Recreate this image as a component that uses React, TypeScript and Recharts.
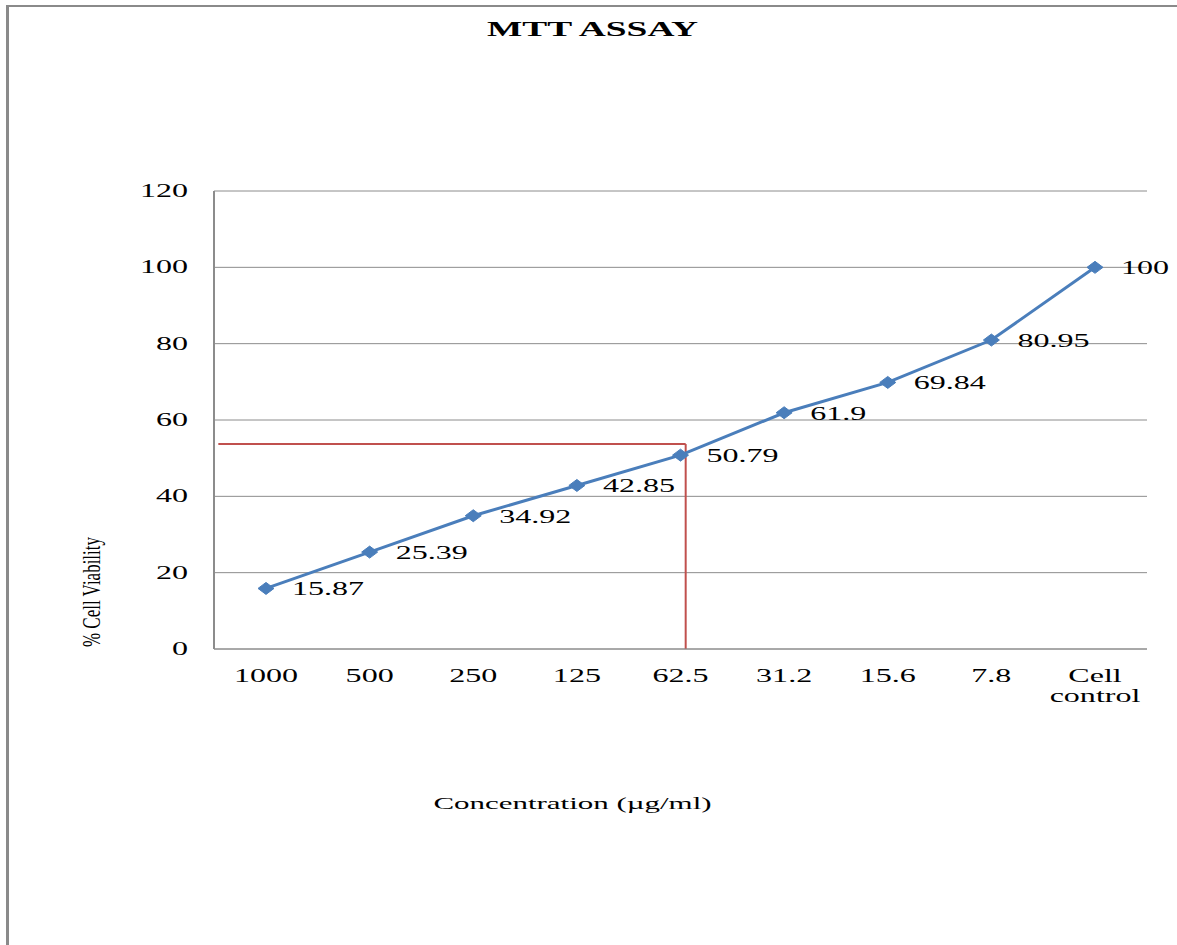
import { FC } from 'react';
import {
  CartesianGrid,
  LabelList,
  Line,
  LineChart,
  ReferenceLine,
  XAxis,
  YAxis,
} from 'recharts';

const concentrations = ['1000', '500', '250', '125', '62.5', '31.2', '15.6', '7.8', 'Cell control'];
const viability = [15.87, 25.39, 34.92, 42.85, 50.79, 61.9, 69.84, 80.95, 100];
const yTicks = [0, 20, 40, 60, 80, 100, 120];

// IC50 guide (x in category index units, y in % viability)
const ic50X = 4.05;
const ic50Y = 53.7;
const guideStartX = -0.46;

const data = concentrations.map((c, i) => ({ conc: c, idx: i, value: viability[i] }));

const FONT = '"Liberation Serif", "Times New Roman", serif';
const STRETCH = 1.78;
const PAD = { left: 52, right: 52 };

const XTick: FC<any> = ({ x, y, payload }) => {
  const lines = String(payload.value).split(' ');
  return (
    <g transform={`translate(${x},${y})`}>
      <text
        transform={`scale(${STRETCH},1)`}
        textAnchor="middle"
        fontFamily={FONT}
        fontSize={18}
        fill="#000"
      >
        {lines.map((l, i) => (
          <tspan key={i} x={0} dy={i === 0 ? '0.71em' : '1.15em'}>
            {l}
          </tspan>
        ))}
      </text>
    </g>
  );
};

const YTick: FC<any> = ({ x, y, payload }) => (
  <g transform={`translate(${x},${y})`}>
    <text
      transform={`scale(${STRETCH},1)`}
      textAnchor="end"
      dy="0.33em"
      fontFamily={FONT}
      fontSize={18}
      fill="#000"
    >
      {payload.value}
    </text>
  </g>
);

const PointLabel: FC<any> = ({ x, y, value }) => (
  <g transform={`translate(${x + 26},${y})`}>
    <text
      transform={`scale(${STRETCH},1)`}
      textAnchor="start"
      dy="0.38em"
      fontFamily={FONT}
      fontSize={18}
      fill="#000"
    >
      {value}
    </text>
  </g>
);

const Diamond: FC<any> = ({ cx, cy }) => {
  if (cx == null || cy == null) return null;
  const w = 8;
  const h = 6;
  return (
    <polygon
      points={`${cx - w},${cy} ${cx},${cy - h} ${cx + w},${cy} ${cx},${cy + h}`}
      fill="#4A7EBB"
      stroke="#4A7EBB"
    />
  );
};

export default function App() {
  return (
    <div
      style={{
        position: 'absolute',
        left: 0,
        top: 0,
        width: 1177,
        height: 945,
        background: '#fff',
        overflow: 'hidden',
      }}
    >
      <div
        style={{
          position: 'absolute',
          left: 6,
          top: 5,
          right: -10,
          bottom: -10,
          borderTop: '2px solid #8a8a8a',
          borderLeft: '3px solid #8a8a8a',
        }}
      />
      <div
        style={{
          position: 'absolute',
          left: 0,
          width: 1185,
          top: 16,
          textAlign: 'center',
          fontFamily: FONT,
          fontWeight: 'bold',
          fontSize: 22,
          transform: 'scaleX(1.7)',
        }}
      >
        MTT ASSAY
      </div>
      <div
        style={{
          position: 'absolute',
          left: 0,
          width: 1145,
          top: 794,
          textAlign: 'center',
          fontFamily: FONT,
          fontSize: 17,
          transform: 'scaleX(1.82)',
        }}
      >
        Concentration (µg/ml)
      </div>
      <div
        style={{
          position: 'absolute',
          left: 92 - 100,
          width: 200,
          top: 592 - 10,
          height: 20,
          lineHeight: '20px',
          textAlign: 'center',
          fontFamily: FONT,
          fontSize: 17,
          transform: 'scaleX(1.5) rotate(-90deg)',
        }}
      >
        % Cell Viability
      </div>
      <div style={{ position: 'absolute', left: 0, top: 0 }}>
        <LineChart
          width={1177}
          height={945}
          data={data}
          margin={{ top: 191, right: 30, bottom: 256, left: 154 }}
        >
          <CartesianGrid vertical={false} stroke="#8c8c8c" strokeWidth={1} />
          <XAxis
            xAxisId="cat"
            dataKey="conc"
            height={40}
            interval={0}
            padding={PAD}
            tickSize={0}
            tickMargin={20}
            axisLine={{ stroke: '#8c8c8c', strokeWidth: 1 }}
            tick={<XTick />}
          />
          <XAxis
            xAxisId="ref"
            dataKey="idx"
            type="number"
            domain={[0, 8]}
            padding={PAD}
            allowDataOverflow
            hide
          />
          <YAxis
            width={60}
            domain={[0, 120]}
            ticks={yTicks}
            interval={0}
            tickSize={0}
            tickMargin={26}
            axisLine={{ stroke: '#8c8c8c', strokeWidth: 2 }}
            tick={<YTick />}
          />
          <ReferenceLine
            xAxisId="ref"
            ifOverflow="visible"
            segment={[
              { x: guideStartX, y: ic50Y },
              { x: ic50X, y: ic50Y },
            ]}
            stroke="#C0504D"
            strokeWidth={2}
          />
          <ReferenceLine
            xAxisId="ref"
            ifOverflow="visible"
            segment={[
              { x: ic50X, y: ic50Y },
              { x: ic50X, y: 0 },
            ]}
            stroke="#C0504D"
            strokeWidth={2}
          />
          <Line
            xAxisId="cat"
            type="linear"
            dataKey="value"
            stroke="#4A7EBB"
            strokeWidth={3}
            dot={<Diamond />}
            activeDot={false}
            isAnimationActive={false}
          >
            <LabelList dataKey="value" content={<PointLabel />} />
          </Line>
        </LineChart>
      </div>
    </div>
  );
}
